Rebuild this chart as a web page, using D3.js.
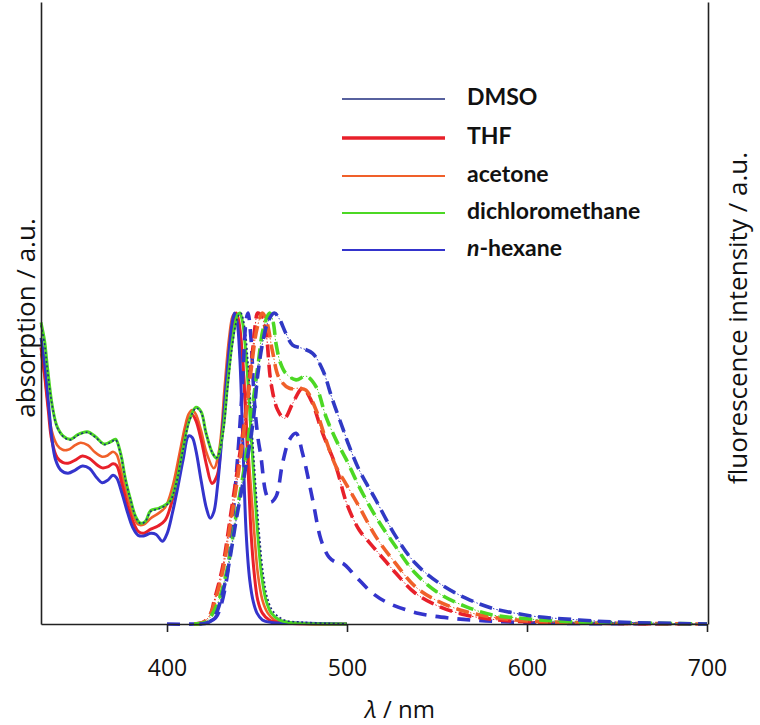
<!DOCTYPE html>
<html>
<head>
<meta charset="utf-8">
<script src="https://cdn.jsdelivr.net/npm/d3@7"></script>
<style>
  html, body { margin: 0; padding: 0; background: #fff; }
  svg { display: block; font-family: Lato, "Open Sans", sans-serif; }
</style>
</head>
<body>
<svg id="chart" width="760" height="725"></svg>
<script>
// ---------- DATA ----------
const solvents = ["DMSO", "THF", "acetone", "dichloromethane", "n-hexane"];
const solventColors = ["#1f2d7e", "#e8202a", "#f0602a", "#4cd824", "#3434cc"];
const xTicks = [400, 500, 600, 700];

// absorption spectra (normalised), [wavelength nm, value]
const absDMSO = [[330,0.96],[332,0.90],[333.5,0.82],[336.3,0.70],[339,0.632],[342.8,0.600],[346.5,0.592],[350.2,0.606],[355.7,0.616],[360.3,0.600],[365,0.577],[368.7,0.584],[371.4,0.592],[374.2,0.547],[377,0.462],[379.8,0.398],[382.6,0.344],[385.3,0.323],[388,0.33],[391,0.362],[395.7,0.371],[401.3,0.391],[405,0.45],[408.7,0.555],[412.4,0.652],[416.1,0.694],[418.9,0.681],[421.7,0.614],[425.3,0.55],[427.6,0.535],[430.9,0.605],[433.7,0.76],[436.4,0.90],[439.2,0.985],[441,1.0],[443,0.96],[445,0.84],[447.5,0.60],[451.3,0.29],[453.5,0.16],[456,0.08],[459,0.04],[465.2,0.013],[475,0.006],[490,0.002],[500,0]];
const absTHF = [[330,0.89],[332,0.80],[334,0.69],[336,0.59],[339,0.535],[342,0.52],[345,0.517],[349,0.527],[353,0.540],[357,0.532],[361,0.512],[364,0.502],[367,0.505],[370,0.515],[372,0.51],[375,0.45],[378,0.38],[381,0.33],[384,0.298],[387,0.292],[391,0.305],[395,0.315],[399,0.334],[403,0.40],[407,0.52],[410,0.61],[412,0.655],[414,0.672],[416,0.655],[419,0.592],[422,0.51],[425,0.452],[428,0.48],[430,0.58],[433,0.77],[435,0.90],[437,0.98],[438.5,1.0],[440,0.97],[442,0.85],[444.2,0.613],[446.7,0.292],[448.5,0.16],[450.4,0.077],[453,0.035],[456.8,0.013],[462,0.005],[500,0]];
const absAcetone = [[330,0.87],[332,0.80],[334,0.70],[336,0.62],[339,0.575],[342,0.56],[345,0.56],[349,0.575],[352,0.583],[356,0.575],[360,0.552],[364,0.538],[367,0.542],[370,0.554],[372,0.545],[375,0.48],[378,0.41],[381,0.35],[384,0.32],[387,0.32],[391,0.34],[395,0.355],[399,0.375],[403,0.44],[407,0.55],[410,0.635],[412,0.675],[414,0.688],[416,0.675],[419,0.62],[422,0.55],[426,0.501],[429,0.56],[432,0.76],[434.5,0.92],[436.5,0.99],[438,1.0],[440,0.96],[442,0.86],[444.5,0.613],[448.5,0.292],[450.5,0.16],[453,0.077],[456,0.035],[459.6,0.013],[465,0.005],[500,0]];
const absDCM = [[330,0.97],[332,0.91],[333.5,0.83],[336.3,0.70],[339,0.634],[342.8,0.602],[346.5,0.594],[350.2,0.608],[355.7,0.618],[360.3,0.602],[365,0.579],[368.7,0.586],[371.4,0.594],[374.2,0.549],[377,0.463],[379.8,0.399],[382.6,0.345],[385.3,0.324],[388,0.33],[391,0.365],[395.7,0.373],[401.3,0.393],[405,0.453],[408.7,0.56],[412.4,0.656],[416.1,0.697],[418.9,0.683],[421.7,0.614],[425.3,0.549],[427.6,0.533],[430.9,0.613],[433.7,0.774],[436.4,0.913],[439.2,0.994],[440.5,1.0],[442,0.97],[444,0.86],[446.7,0.613],[450.4,0.292],[452.5,0.16],[455,0.077],[458,0.035],[462.4,0.013],[468,0.005],[500,0]];
const absHexane = [[330,0.92],[332,0.84],[334,0.72],[336,0.60],[338,0.53],[341,0.495],[345,0.485],[349,0.495],[353,0.508],[357,0.500],[361,0.470],[364,0.454],[367,0.462],[370,0.478],[372,0.470],[375,0.42],[378,0.36],[381,0.31],[384,0.285],[387,0.283],[391,0.292],[394,0.288],[397.5,0.266],[400,0.29],[403,0.357],[406,0.44],[409,0.53],[412,0.605],[414,0.600],[416,0.56],[419,0.46],[422,0.37],[424,0.34],[426,0.36],[428,0.44],[431,0.634],[434,0.85],[436,0.96],[437.5,1.0],[439,0.97],[440.5,0.85],[442,0.61],[444,0.29],[446,0.14],[448,0.07],[450,0.035],[453,0.013],[458,0.005],[470,0.003],[500,0]];

// fluorescence spectra (normalised), [wavelength nm, value]
const emDMSO = [[418,0],[423,0.005],[427,0.03],[430,0.08],[434,0.18],[438.3,0.33],[443,0.48],[447.6,0.64],[450.4,0.8],[453,0.9],[456,0.97],[459.6,1.0],[462.5,0.98],[466,0.935],[469.8,0.897],[475.3,0.886],[480.9,0.87],[486.5,0.817],[492,0.72],[497.6,0.63],[501,0.575],[506.8,0.495],[516,0.399],[527.2,0.281],[538,0.195],[551.3,0.131],[566,0.083],[581,0.05],[594,0.034],[605,0.024],[629,0.013],[650,0.006],[700,0]];
const emTHF = [[415,0],[420,0.005],[424,0.03],[426.3,0.077],[430.9,0.184],[435.5,0.356],[440.2,0.538],[443.9,0.688],[446,0.8],[447.6,0.88],[449,0.96],[450.4,1.0],[452.5,0.99],[455,0.936],[457.8,0.774],[461.5,0.688],[465.2,0.661],[469.8,0.709],[475.3,0.758],[480,0.72],[486.5,0.613],[493.9,0.506],[500,0.385],[506.8,0.302],[512,0.265],[516,0.238],[521.7,0.2],[527.2,0.163],[538,0.099],[551.3,0.056],[566,0.029],[581,0.015],[600,0.007],[630,0.003],[700,0]];
const emAcetone = [[415,0],[420,0.005],[424,0.03],[427,0.08],[431,0.17],[435.5,0.33],[440,0.5],[444,0.68],[447,0.83],[450,0.95],[453,1.0],[455.5,0.97],[458.5,0.88],[462.4,0.79],[468,0.758],[473.5,0.758],[477.2,0.752],[482.8,0.688],[488.3,0.592],[493.9,0.506],[499.5,0.45],[506.8,0.377],[516,0.281],[527,0.195],[538,0.12],[551,0.072],[566,0.04],[581,0.022],[600,0.01],[630,0.004],[700,0]];
const emDCM = [[415,0],[421,0.005],[425,0.03],[429,0.08],[433.7,0.184],[438.3,0.345],[443,0.506],[447,0.68],[450.5,0.83],[453.5,0.95],[457,1.0],[459,0.97],[460.6,0.9],[463,0.84],[466,0.806],[471.7,0.785],[477.2,0.797],[482.8,0.763],[488.3,0.667],[493.9,0.592],[499.5,0.53],[506.8,0.441],[516,0.345],[527,0.249],[538,0.163],[551,0.099],[566,0.056],[581,0.029],[594,0.02],[620,0.008],[650,0.004],[700,0]];
const emHexane = [[400,0],[415,0],[422,0.005],[427,0.02],[430,0.06],[433.7,0.164],[435.5,0.27],[437.4,0.399],[440.2,0.613],[442,0.78],[443,0.9],[444,0.98],[445,1.0],[446.5,0.93],[448.5,0.72],[450.5,0.6],[452.2,0.538],[455,0.42],[457.5,0.392],[460.6,0.41],[464.2,0.517],[468,0.592],[471.7,0.613],[475.3,0.549],[480.9,0.40],[485.6,0.27],[490,0.215],[494,0.198],[497.6,0.195],[505,0.152],[514.2,0.099],[523.5,0.066],[540,0.034],[558.7,0.018],[577,0.01],[597,0.005],[620,0.002],[700,0]];

// ---------- CHART ----------
const svg = d3.select("#chart");
const x = d3.scaleLinear().domain([330, 700]).range([41, 707]);
const y = d3.scaleLinear().domain([0, 2]).range([624, 2]);

const line = d3.line()
  .x(d => x(d[0]))
  .y(d => y(d[1]))
  .curve(d3.curveCatmullRom.alpha(0.5));

const plot = svg.append("g");

// absorption (solid)
const absSeries = [
  {data: absAcetone, color: solventColors[2], w: 2.6},
  {data: absTHF, color: solventColors[1], w: 3},
  {data: absHexane, color: solventColors[4], w: 3},
  {data: absDCM, color: solventColors[3], w: 3},
];
absSeries.forEach(s => {
  plot.append("path").attr("d", line(s.data))
    .attr("fill", "none").attr("stroke", s.color)
    .attr("stroke-width", s.w).attr("stroke-linejoin", "round");
});
plot.append("path").attr("d", line(absDMSO))
  .attr("fill", "none").attr("stroke", solventColors[0])
  .attr("stroke-width", 1.6).attr("stroke-dasharray", "2,2.5");

// emission (dashed)
const emSeries = [
  {data: emHexane, color: solventColors[4], dash: "13,9", thin: false},
  {data: emTHF, color: solventColors[1], dash: "13,7", thin: true},
  {data: emAcetone, color: solventColors[2], dash: "13,7", thin: true},
  {data: emDCM, color: solventColors[3], dash: "13,7", thin: true},
  {data: emDMSO, color: "#3039c4", dash: "13,7", thin: true},
];
emSeries.forEach(s => {
  if (s.thin) {
    plot.append("path").attr("d", line(s.data))
      .attr("fill", "none").attr("stroke", s.color)
      .attr("stroke-width", 1).attr("stroke-dasharray", "1.5,2");
  }
  plot.append("path").attr("d", line(s.data))
    .attr("fill", "none").attr("stroke", s.color)
    .attr("stroke-width", 3.6).attr("stroke-dasharray", s.dash);
});

// axes
const FONT = "'Open Sans', Lato, sans-serif";
const xAxis = d3.axisBottom(x).tickValues(xTicks).tickSize(8).tickSizeOuter(0).tickPadding(28);
const gx = svg.append("g").attr("transform", "translate(0,624)").call(xAxis);
gx.select(".domain").attr("stroke", "#222").attr("stroke-width", 1.6);
gx.selectAll(".tick line").attr("stroke", "#222").attr("stroke-width", 1.6);
gx.selectAll(".tick text").attr("font-size", 23).attr("fill", "#111")
  .attr("font-family", FONT);

const gl = svg.append("g").attr("transform", "translate(41,0)")
  .call(d3.axisLeft(y).tickValues([]).tickSizeOuter(0));
gl.select(".domain").attr("stroke", "#222").attr("stroke-width", 1.6);
const gr = svg.append("g").attr("transform", "translate(708,0)")
  .call(d3.axisRight(y).tickValues([]).tickSizeOuter(0));
gr.select(".domain").attr("stroke", "#222").attr("stroke-width", 1.6);

// axis titles
svg.append("text").attr("transform", "translate(28,318) rotate(-90)")
  .attr("text-anchor", "middle").attr("dominant-baseline", "middle")
  .attr("font-family", FONT)
  .attr("font-size", 26).attr("fill", "#111").text("absorption / a.u.");
svg.append("text").attr("transform", "translate(740,318) rotate(-90)")
  .attr("text-anchor", "middle").attr("dominant-baseline", "middle")
  .attr("font-family", FONT)
  .attr("font-size", 26).attr("fill", "#111").text("fluorescence intensity / a.u.");
const xt = svg.append("text").attr("x", 400).attr("y", 712)
  .attr("text-anchor", "middle").attr("dominant-baseline", "middle")
  .attr("font-size", 24).attr("fill", "#111")
  .attr("font-family", FONT);
xt.append("tspan").attr("font-style", "italic").text("λ");
xt.append("tspan").text(" / nm");

// legend
const legendW = [1.6, 3.4, 2, 2, 2.2];
const legendY = [99, 138, 176, 213, 250];
const lg = svg.append("g");
solvents.forEach((name, i) => {
  lg.append("line").attr("x1", 342).attr("x2", 445)
    .attr("y1", legendY[i]).attr("y2", legendY[i])
    .attr("stroke", solventColors[i]).attr("stroke-width", legendW[i]);
  const t = lg.append("text").attr("x", 467).attr("y", legendY[i])
    .attr("dominant-baseline", "middle").attr("font-size", 23)
    .attr("font-weight", 700).attr("fill", "#111");
  if (name === "n-hexane") {
    t.append("tspan").attr("font-style", "italic").text("n");
    t.append("tspan").text("-hexane");
  } else {
    t.text(name);
  }
});
</script>
</body>
</html>
